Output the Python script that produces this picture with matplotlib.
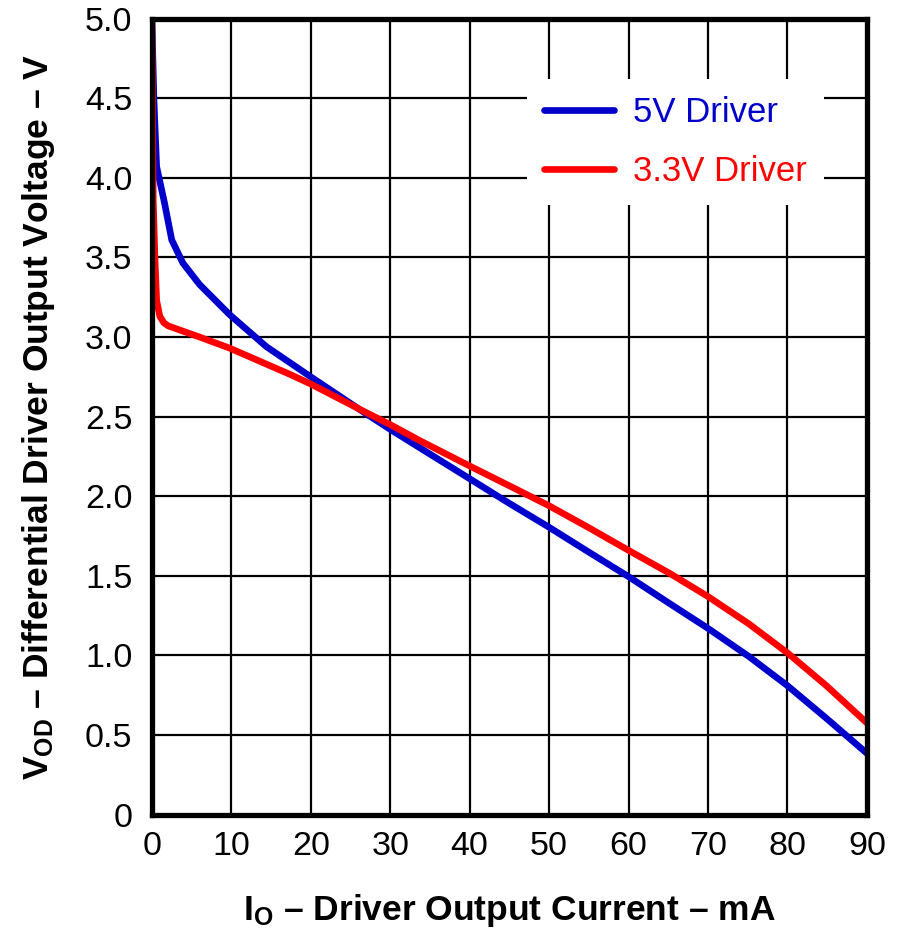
import matplotlib.pyplot as plt

plt.rcParams['font.family'] = ['Liberation Sans', 'DejaVu Sans']
plt.rcParams['mathtext.fontset'] = 'custom'
plt.rcParams['mathtext.rm'] = 'Liberation Sans'
plt.rcParams['mathtext.bf'] = 'Liberation Sans:bold'

# 5V driver curve (mA, V)
i_5v = [0, 0.25, 0.6, 1.6, 2.5, 3.9, 6.0, 9.8, 14.4, 20, 26.6, 30, 33.7, 40, 44.9, 50,
        54.9, 60, 65.2, 70, 75.1, 80, 84.9, 90]
v_5v = [5.0, 4.5, 4.07, 3.84, 3.61, 3.465, 3.33, 3.14, 2.94, 2.75, 2.53, 2.42, 2.305, 2.11, 1.958, 1.805,
        1.652, 1.495, 1.325, 1.17, 0.995, 0.81, 0.605, 0.385]

# 3.3V driver curve (mA, V)
i_33v = [0, 0.17, 0.38, 0.6, 1.0, 1.5, 2.05, 6.0, 9.8, 17.4, 20, 26.6, 30, 33.7, 40, 44.9, 50,
         54.9, 60, 65.2, 70, 75.1, 80, 84.9, 90]
v_33v = [5.0, 3.86, 3.5, 3.23, 3.13, 3.09, 3.07, 3.0, 2.93, 2.765, 2.705, 2.535, 2.45, 2.35, 2.19, 2.068, 1.94,
         1.805, 1.66, 1.515, 1.37, 1.20, 1.016, 0.81, 0.576]

x_ticks = [0, 10, 20, 30, 40, 50, 60, 70, 80, 90]
y_ticks = [0, 0.5, 1.0, 1.5, 2.0, 2.5, 3.0, 3.5, 4.0, 4.5, 5.0]
y_labels = ['0', '0.5', '1.0', '1.5', '2.0', '2.5', '3.0', '3.5', '4.0', '4.5', '5.0']

fig = plt.figure(figsize=(9.04, 9.3), dpi=100)
ax = fig.add_axes([0.168, 0.124, 0.791, 0.856])

ax.plot(i_5v, v_5v, color='#0000CC', lw=4.8, label='5V Driver', solid_capstyle='round',
        solid_joinstyle='round', zorder=3)
ax.plot(i_33v, v_33v, color='#FF0000', lw=4.8, label='3.3V Driver', solid_capstyle='round',
        solid_joinstyle='round', zorder=3)

ax.set_xlim(0, 90)
ax.set_ylim(0, 5)
ax.set_xticks(x_ticks)
ax.set_yticks(y_ticks)
ax.set_yticklabels(y_labels)
ax.tick_params(length=0, labelsize=24.5)
ax.tick_params(axis='y', pad=14)
ax.tick_params(axis='x', pad=12)
ax.grid(color='black', lw=1.6)
for s in ax.spines.values():
    s.set_linewidth(3.8)
    s.set_zorder(4)

ax.set_xlabel(r'$\mathbf{I_O}$ – Driver Output Current – mA', fontsize=25.5, fontweight='bold', labelpad=21)
ax.set_ylabel(r'$\mathbf{V_{OD}}$ – Differential Driver Output Voltage – V', fontsize=25.5, fontweight='bold', labelpad=20)

leg = ax.legend(loc='upper left', bbox_to_anchor=(0.5245, 0.9246), borderaxespad=0, fontsize=25, frameon=True,
                fancybox=False, edgecolor='none', facecolor='white', framealpha=1,
                handlelength=2.0, handletextpad=0.55, labelspacing=0.75, borderpad=0.5)
for txt, line in zip(leg.get_texts(), leg.get_lines()):
    txt.set_color(line.get_color())

plt.savefig('out.png')
